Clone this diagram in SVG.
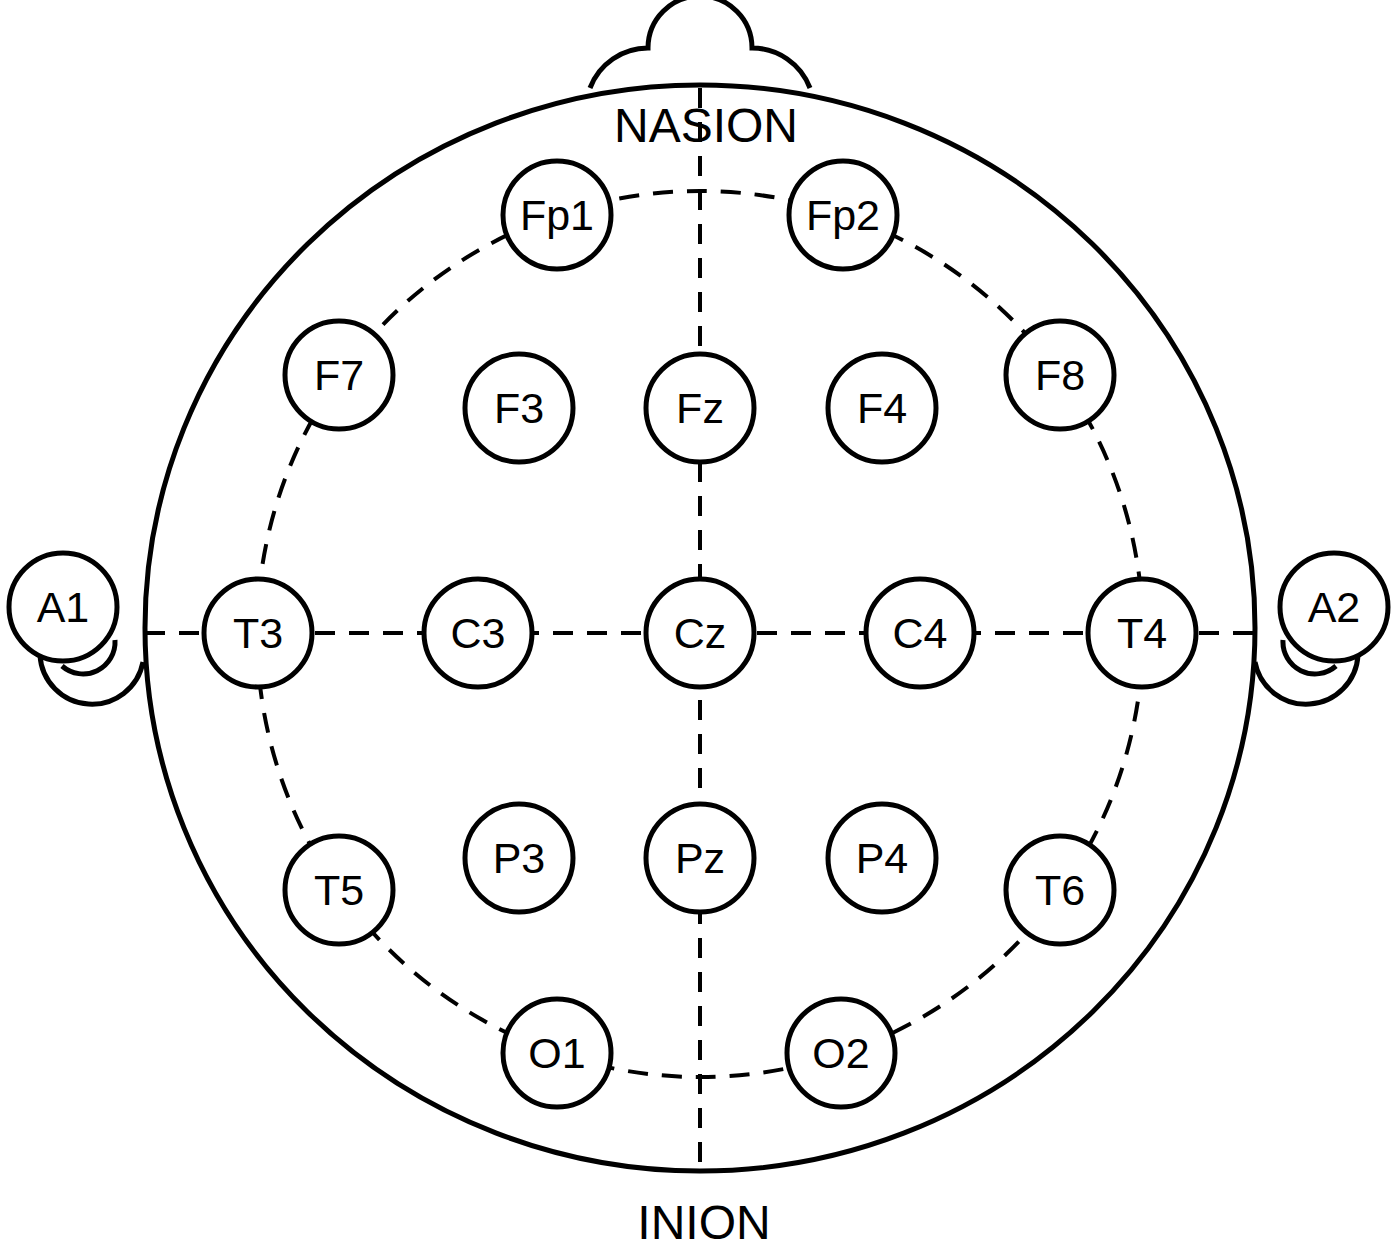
<svg xmlns="http://www.w3.org/2000/svg" width="1400" height="1253" viewBox="0 0 1400 1253">
<style>
.s{fill:none;stroke:#000;stroke-width:5}
.d{fill:none;stroke:#000;stroke-width:4;stroke-dasharray:20 14}
.e{fill:#fff;stroke:#000;stroke-width:5}
text{font-family:"Liberation Sans",Arial,sans-serif;font-size:43px;text-anchor:middle;fill:#000}
.t{font-size:48px}
</style>
<rect width="1400" height="1253" fill="#fff"/>
<g id="head">
<path class="s" d="M590,88 A62 62 0 0 1 648 48 A52 52 0 0 1 752 48 A62 62 0 0 1 810 88"/>
<g id="ear-left"><path class="s" d="M115,640 A32 32 0 0 1 62 666 M40,655 A52 52 0 0 0 143 662"/></g>
<g id="ear-right" transform="translate(1398,0) scale(-1,1)"><path class="s" d="M115,640 A32 32 0 0 1 62 666 M40,655 A52 52 0 0 0 143 662"/></g>
<ellipse class="s" cx="700" cy="628" rx="555" ry="543"/>
</g>
<g id="connectors">
<circle class="d" cx="700" cy="634" r="443"/>
<line class="d" x1="700" y1="88" x2="700" y2="1170"/>
<line class="d" x1="145" y1="633" x2="1255" y2="633"/>
</g>
<text class="t" x="706" y="142">NASION</text>
<text class="t" x="704" y="1239">INION</text>
<g id="A1"><circle class="e" cx="63" cy="607" r="54"/><text x="63" y="622">A1</text></g>
<g id="A2"><circle class="e" cx="1334" cy="607" r="54"/><text x="1334" y="622">A2</text></g>
<g id="Fp1"><circle class="e" cx="557" cy="215" r="54"/><text x="557" y="230">Fp1</text></g>
<g id="Fp2"><circle class="e" cx="843" cy="215" r="54"/><text x="843" y="230">Fp2</text></g>
<g id="F7"><circle class="e" cx="339" cy="375" r="54"/><text x="339" y="390">F7</text></g>
<g id="F3"><circle class="e" cx="519" cy="408" r="54"/><text x="519" y="423">F3</text></g>
<g id="Fz"><circle class="e" cx="700" cy="408" r="54"/><text x="700" y="423">Fz</text></g>
<g id="F4"><circle class="e" cx="882" cy="408" r="54"/><text x="882" y="423">F4</text></g>
<g id="F8"><circle class="e" cx="1060" cy="375" r="54"/><text x="1060" y="390">F8</text></g>
<g id="T3"><circle class="e" cx="258" cy="633" r="54"/><text x="258" y="648">T3</text></g>
<g id="C3"><circle class="e" cx="478" cy="633" r="54"/><text x="478" y="648">C3</text></g>
<g id="Cz"><circle class="e" cx="700" cy="633" r="54"/><text x="700" y="648">Cz</text></g>
<g id="C4"><circle class="e" cx="920" cy="633" r="54"/><text x="920" y="648">C4</text></g>
<g id="T4"><circle class="e" cx="1142" cy="633" r="54"/><text x="1142" y="648">T4</text></g>
<g id="T5"><circle class="e" cx="339" cy="890" r="54"/><text x="339" y="905">T5</text></g>
<g id="P3"><circle class="e" cx="519" cy="858" r="54"/><text x="519" y="873">P3</text></g>
<g id="Pz"><circle class="e" cx="700" cy="858" r="54"/><text x="700" y="873">Pz</text></g>
<g id="P4"><circle class="e" cx="882" cy="858" r="54"/><text x="882" y="873">P4</text></g>
<g id="T6"><circle class="e" cx="1060" cy="890" r="54"/><text x="1060" y="905">T6</text></g>
<g id="O1"><circle class="e" cx="557" cy="1053" r="54"/><text x="557" y="1068">O1</text></g>
<g id="O2"><circle class="e" cx="841" cy="1053" r="54"/><text x="841" y="1068">O2</text></g>
</svg>
